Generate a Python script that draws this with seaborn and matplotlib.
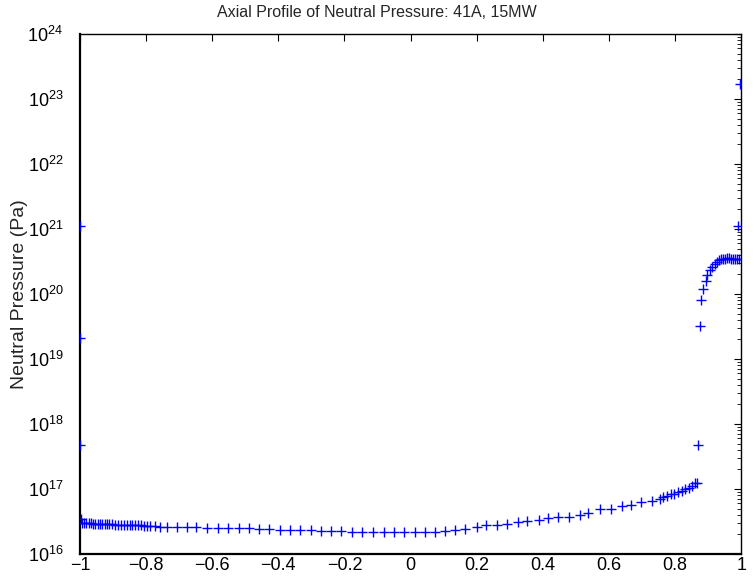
import matplotlib
matplotlib.use('Agg')
import matplotlib.pyplot as plt
import seaborn as sns
import numpy as np
import pandas as pd
from matplotlib.ticker import LogLocator, FixedLocator, FuncFormatter, NullFormatter

# =============================================================================
# DADOS
# =============================================================================
TITLE = 'Axial Profile of Neutral Pressure: 41A, 15MW'
YLABEL = 'Neutral Pressure (Pa)'

# posição axial normalizada
z_pos = [
    -1.000, -0.9995, -0.999, -0.998,
    -0.995, -0.988, -0.981, -0.974, -0.967, -0.960, -0.953, -0.946, -0.939,
    -0.932, -0.925, -0.918, -0.911, -0.904, -0.895, -0.886, -0.877, -0.868,
    -0.859, -0.850, -0.841, -0.832, -0.823, -0.814, -0.805, -0.796, -0.788,
    -0.773, -0.758, -0.738, -0.707, -0.677, -0.649, -0.617, -0.582, -0.551,
    -0.518, -0.488, -0.458, -0.427, -0.395, -0.364, -0.334, -0.302, -0.272,
    -0.241, -0.210, -0.178, -0.148, -0.114, -0.080, -0.050, -0.020, 0.014,
    0.044, 0.074, 0.104, 0.135, 0.165, 0.200, 0.228, 0.261, 0.293, 0.326,
    0.353, 0.387, 0.417, 0.447, 0.480, 0.511, 0.538, 0.573, 0.607, 0.639,
    0.667, 0.697, 0.730, 0.755, 0.765, 0.777, 0.787, 0.798, 0.810, 0.821,
    0.831, 0.841, 0.851, 0.861, 0.866,
    0.868, 0.874, 0.879, 0.886, 0.893, 0.898, 0.906, 0.912, 0.920, 0.928,
    0.934, 0.940, 0.946, 0.952, 0.958, 0.964, 0.970, 0.976, 0.982, 0.988,
    0.993, 0.991, 0.995,
]

# pressão neutra (Pa)
pressao = [
    1.1e21, 2.1e19, 4.7e17, 3.5e16,
    3.0e16, 3.0e16, 2.95e16, 2.95e16, 2.95e16, 2.9e16, 2.9e16, 2.9e16, 2.9e16,
    2.9e16, 2.9e16, 2.9e16, 2.9e16, 2.85e16, 2.8e16, 2.8e16, 2.8e16, 2.8e16,
    2.8e16, 2.75e16, 2.75e16, 2.75e16, 2.75e16, 2.75e16, 2.7e16, 2.7e16, 2.7e16,
    2.65e16, 2.6e16, 2.6e16, 2.6e16, 2.6e16, 2.6e16, 2.5e16, 2.5e16, 2.5e16,
    2.5e16, 2.5e16, 2.45e16, 2.45e16, 2.35e16, 2.35e16, 2.3e16, 2.3e16, 2.25e16,
    2.25e16, 2.25e16, 2.15e16, 2.15e16, 2.15e16, 2.15e16, 2.15e16, 2.15e16, 2.15e16,
    2.15e16, 2.15e16, 2.25e16, 2.3e16, 2.45e16, 2.6e16, 2.8e16, 2.8e16, 2.9e16, 3.1e16,
    3.2e16, 3.3e16, 3.55e16, 3.7e16, 3.75e16, 4.0e16, 4.3e16, 5.0e16, 5.0e16, 5.4e16,
    5.6e16, 6.3e16, 6.6e16, 6.9e16, 7.4e16, 7.8e16, 8.3e16, 8.5e16, 9.1e16, 9.3e16,
    1.0e17, 1.05e17, 1.12e17, 1.23e17, 1.25e17,
    4.7e17, 3.2e19, 8.1e19, 1.18e20, 1.6e20, 1.95e20, 2.3e20, 2.6e20, 2.9e20, 3.1e20,
    3.3e20, 3.45e20, 3.5e20, 3.5e20, 3.55e20, 3.55e20, 3.5e20, 3.5e20, 3.5e20, 3.45e20,
    3.45e20, 1.1e21, 1.7e23,
]

X_TICKS = [-1, -0.8, -0.6, -0.4, -0.2, 0, 0.2, 0.4, 0.6, 0.8, 1]

df = pd.DataFrame({'z': z_pos, 'p': pressao})

# =============================================================================
# FIGURA
# =============================================================================
sns.set_style('white')
plt.rcParams['font.family'] = ['Liberation Sans', 'DejaVu Sans']
plt.rcParams['mathtext.fontset'] = 'custom'
plt.rcParams['mathtext.rm'] = 'Liberation Sans'

fig = plt.figure(figsize=(7.54, 5.84), dpi=100)
ax = fig.add_axes([0.106, 0.0514, 0.877, 0.8904])

sns.scatterplot(data=df, x='z', y='p', marker='+', color='blue', s=60,
                linewidth=1.0, ax=ax, legend=False, zorder=3)

ax.set_yscale('log')
ax.set_xlim(-1, 1)
ax.set_ylim(1e16, 1e24)

ax.xaxis.set_major_locator(FixedLocator(X_TICKS))
ax.xaxis.set_major_formatter(FuncFormatter(lambda v, p: f'{v:g}'.replace('-', '\u2212')))
ax.yaxis.set_major_locator(LogLocator(base=10, numticks=20))
ax.yaxis.set_minor_locator(LogLocator(base=10, subs=np.arange(2, 10), numticks=100))
ax.yaxis.set_minor_formatter(NullFormatter())

ax.tick_params(axis='both', which='both', direction='in', top=True, right=True,
               labelsize=13, colors='black')
ax.tick_params(axis='both', which='major', length=5, width=0.8)
ax.tick_params(axis='x', which='major', pad=2)
ax.tick_params(axis='y', which='major', pad=12)
ax.tick_params(axis='y', which='minor', length=3, width=0.6)

for lado in ['left', 'bottom']:
    ax.spines[lado].set_linewidth(1.6)
for lado in ['top', 'right']:
    ax.spines[lado].set_linewidth(1.0)
for sp in ax.spines.values():
    sp.set_color('black')

ax.set_xlabel('')
ax.set_ylabel(YLABEL, fontsize=14)
ax.yaxis.set_label_coords(-0.079, 0.5)
fig.text(0.5, 0.979, TITLE, fontsize=11.5, ha='center', va='center')

plt.savefig('out.png', dpi=100)
plt.close()
